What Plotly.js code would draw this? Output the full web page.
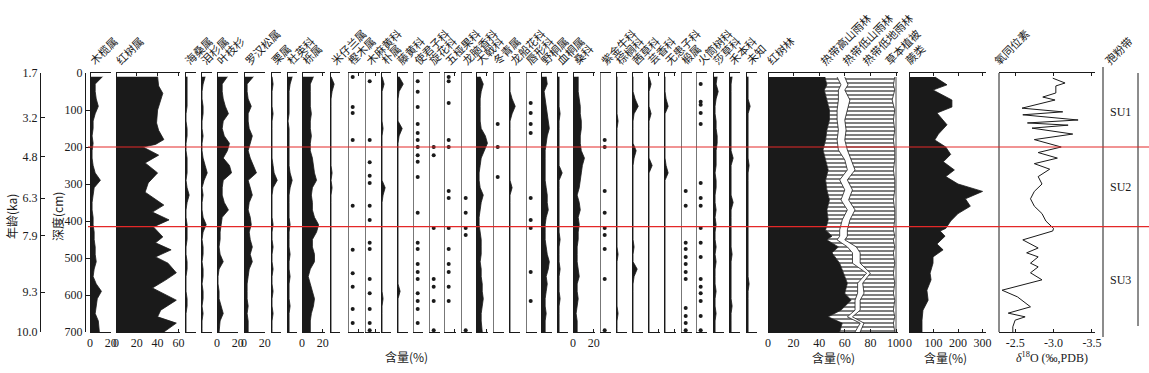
<!DOCTYPE html>
<html>
<head>
<meta charset="utf-8">
<script src="https://cdn.plot.ly/plotly-3.0.1.min.js"></script>
<style>
  body { margin: 0; background: #fff; }
  #chart { width: 1149px; height: 373px; }
</style>
</head>
<body>
<div id="chart"></div>
<script>
// sample depths (cm) shared by most pollen curves
const depths = [10, 30, 50, 70, 90, 110, 130, 150, 170, 190, 210, 230, 250, 270, 290, 310, 330, 350,
                370, 390, 410, 430, 450, 470, 490, 510, 530, 550, 570, 590, 610, 630, 650, 670, 690, 700];

// pollen percentages (%)
const bruguiera   = [12, 5, 5, 6, 8, 5, 3, 3, 2, 3, 2, 2, 3, 5, 10, 4, 3, 2, 2, 3, 3, 4, 4, 5, 5, 6, 4, 3, 6, 11, 7, 6, 5, 8, 9, 9];
const sonneratia  = [2, 2, 2, 2, 2, 1, 1, 2, 2, 1, 1, 2, 2, 2, 1, 2, 4, 2, 1, 1, 2, 2, 2, 1, 1, 2, 2, 1, 1, 1, 2, 2, 1, 1, 1, 1];
const dacrydium   = [4, 2, 1, 1, 2, 2, 1, 1, 2, 1, 1, 2, 4, 6, 3, 1, 2, 1, 1, 2, 5, 2, 1, 2, 2, 1, 2, 2, 1, 2, 2, 1, 2, 1, 1, 1];
const phyllocladus= [10, 5, 5, 6, 8, 11, 6, 5, 7, 12, 10, 6, 12, 14, 6, 5, 5, 7, 11, 5, 4, 3, 3, 2, 3, 6, 2, 1, 1, 2, 2, 4, 6, 3, 2, 2];
const podocarpus  = [9, 3, 3, 4, 7, 4, 4, 5, 8, 6, 4, 6, 9, 12, 4, 6, 8, 5, 4, 6, 7, 5, 6, 8, 6, 8, 5, 4, 3, 3, 3, 4, 3, 4, 4, 4];
const castanea    = [1, 2, 1, 1, 1, 2, 1, 1, 1, 1, 1, 1, 2, 3, 6, 2, 1, 1, 1, 1, 2, 1, 1, 2, 1, 1, 2, 1, 1, 2, 1, 1, 2, 1, 1, 1];
const elaeocarp   = [5, 3, 2, 2, 2, 2, 1, 2, 2, 2, 2, 2, 2, 3, 5, 3, 2, 2, 2, 2, 3, 2, 2, 2, 3, 2, 2, 3, 2, 2, 2, 3, 2, 2, 2, 2];
const quercus     = [11, 8, 8, 8, 8, 9, 8, 8, 9, 8, 8, 10, 11, 12, 14, 10, 9, 10, 10, 12, 16, 14, 10, 10, 12, 12, 8, 6, 8, 10, 12, 11, 9, 8, 8, 8];
const aglaia      = [1, 4, 2, 1, 1, 1, 1, 1, 1, 1, 1, 1, 1, 2, 1, 2, 1, 1, 1, 1, 1, 1, 1, 1, 1, 1, 1, 1, 1, 1, 1, 1, 1, 1, 1, 1];
const celtis      = [1, 3, 1, 1, 1, 1, 1, 2, 1, 1, 1, 1, 1, 1, 1, 4, 2, 1, 1, 1, 1, 1, 1, 1, 1, 1, 1, 1, 1, 1, 2, 1, 1, 1, 1, 1];
const guttiferae  = [2, 6, 2, 1, 1, 1, 1, 5, 2, 1, 1, 1, 1, 1, 1, 1, 1, 1, 1, 1, 1, 1, 1, 1, 1, 1, 1, 1, 1, 3, 1, 1, 1, 1, 1, 1];
const euphorb     = [4, 7, 5, 4, 4, 4, 4, 5, 9, 11, 8, 5, 4, 3, 3, 4, 7, 5, 4, 3, 3, 4, 5, 5, 5, 4, 5, 5, 6, 6, 7, 6, 5, 5, 6, 6];
const ixora       = [1, 1, 1, 3, 6, 3, 1, 1, 1, 1, 1, 1, 1, 1, 1, 3, 1, 1, 1, 1, 1, 1, 1, 1, 1, 1, 1, 1, 1, 1, 1, 1, 1, 1, 1, 1];
const mallotus    = [5, 6, 3, 4, 5, 6, 7, 8, 6, 5, 4, 4, 4, 4, 4, 5, 6, 6, 7, 5, 4, 4, 4, 5, 6, 8, 7, 5, 6, 5, 4, 4, 5, 4, 4, 4];
const macaranga   = [2, 2, 2, 2, 2, 3, 2, 2, 2, 2, 2, 2, 2, 5, 2, 2, 2, 2, 2, 2, 2, 2, 3, 2, 2, 2, 3, 2, 2, 2, 3, 2, 2, 2, 2, 2];
const moraceae    = [5, 5, 5, 6, 7, 7, 8, 8, 7, 7, 8, 11, 9, 8, 7, 6, 4, 6, 7, 5, 6, 5, 5, 4, 4, 4, 5, 6, 4, 4, 5, 4, 3, 4, 4, 4];
const palmae      = [1, 1, 1, 1, 1, 1, 2, 1, 1, 1, 1, 1, 1, 1, 1, 1, 1, 1, 1, 1, 1, 1, 1, 1, 2, 1, 1, 1, 1, 1, 1, 1, 2, 1, 1, 1];
const rubiaceae   = [1, 1, 1, 3, 6, 2, 1, 1, 1, 1, 4, 2, 1, 1, 1, 1, 1, 1, 1, 1, 1, 1, 1, 2, 1, 1, 5, 2, 1, 1, 1, 1, 1, 1, 1, 1];
const rutaceae    = [1, 3, 1, 1, 1, 3, 1, 1, 1, 1, 1, 1, 4, 1, 1, 1, 1, 1, 1, 1, 1, 1, 1, 1, 1, 1, 1, 1, 1, 1, 1, 1, 1, 1, 1, 1];
const sapindaceae = [1, 1, 1, 2, 4, 1, 1, 1, 1, 1, 1, 1, 2, 4, 1, 1, 1, 1, 1, 1, 1, 1, 1, 1, 1, 1, 1, 1, 1, 1, 1, 1, 1, 1, 1, 1];
const cyperaceae  = [4, 3, 5, 3, 2, 2, 3, 3, 4, 4, 3, 3, 3, 2, 3, 3, 2, 2, 3, 2, 3, 2, 2, 3, 2, 3, 2, 2, 2, 3, 2, 2, 3, 2, 2, 2];
const poaceae     = [3, 2, 2, 2, 2, 2, 2, 2, 2, 2, 2, 4, 2, 2, 2, 2, 2, 4, 2, 2, 2, 2, 2, 2, 3, 2, 2, 2, 2, 2, 2, 3, 2, 2, 2, 2];
const unknown     = [2, 2, 2, 2, 4, 2, 2, 2, 2, 2, 2, 2, 3, 2, 2, 2, 2, 2, 2, 2, 2, 2, 2, 2, 2, 2, 2, 2, 3, 2, 2, 2, 2, 2, 2, 2];

// Rhizophora has its own, denser sampling
const rhizoDepth = [10, 35, 55, 75, 100, 135, 155, 180, 193, 200, 222, 243, 270, 297, 322, 357, 376, 397, 416,
                    443, 459, 478, 497, 514, 540, 559, 581, 614, 641, 659, 676, 700];
const rhizophora = [40, 41, 45, 43, 40, 39, 41, 46, 38, 26, 41, 28, 40, 31, 28, 46, 35, 51, 36,
                    45, 38, 53, 38, 50, 58, 48, 35, 58, 43, 40, 58, 46];

// presence-only taxa (depths where a grain was found)
const dysoxylum   = [11, 92, 108, 181, 359, 478, 541, 578, 638, 676];
const casuarina   = [22, 181, 241, 278, 297, 359, 397, 459, 476, 557, 595, 638, 676, 695];
const combretum   = [22, 51, 92, 138, 162, 181, 200, 222, 240, 281, 378, 459, 476, 516, 538, 557, 595, 616, 638, 676];
const convolvul   = [200, 222, 419, 557, 578, 616, 695];
const dillenia    = [11, 22, 81, 181, 200, 319, 338, 419, 476, 516, 538, 578, 616];
const dipterocarp = [338, 378, 419, 438, 695];
const ilex        = [138, 200, 281];
const lamiaceae   = [81, 108, 138, 162, 338, 397, 419, 538, 616];
const myrsine     = [181, 200, 319, 378, 419, 438, 476, 557, 695];
const tilia       = [319, 359, 459, 476, 497, 516, 538, 557, 635, 657, 676, 695];
const leea        = [30, 78, 86, 108, 138, 297, 338, 359, 419, 459, 497, 557, 578, 595, 616, 657, 695];

// vegetation groups (%), summed left to right
const vegDepth    = [11, 32, 46, 73, 100, 127, 154, 181, 208, 235, 262, 289, 316, 343, 370, 397, 424, 441, 451,
                     470, 486, 514, 541, 568, 595, 614, 641, 659, 676, 700];
const mangrove    = [44.5, 46, 44, 46, 48, 48, 46, 45, 43, 45, 47, 45, 46, 48, 46, 47, 45, 50, 46,
                     55, 50, 56, 59, 62, 60, 65, 57, 47, 58, 56];
const montaneRF   = [9.5, 11, 11, 9, 6, 6, 9, 9, 12, 15, 15, 11, 14, 9, 16, 11, 11, 6, 8,
                     7, 16, 10, 18, 8, 10, 3, 11, 15, 14, 12];
const lowMontRF   = [6, 5.5, 5, 9, 8, 6, 6, 6, 7, 5, 6, 6, 6, 6, 6, 6, 6, 6, 6,
                     7, 6, 6, 3, 4, 5, 4, 4, 4, 3, 4];
const lowlandRF   = [39, 35.5, 39, 33, 37, 38, 38, 38, 37, 34, 30, 37, 33, 35, 31, 35, 36, 37, 38,
                     30, 26, 27, 18, 25, 23, 27, 26, 33, 23, 27];

// ferns (% of pollen sum)
const fernDepth = [11, 32, 46, 73, 92, 108, 140, 165, 181, 200, 220, 240, 262, 280, 300, 320, 340, 360, 380,
                   400, 420, 427, 441, 462, 478, 497, 514, 541, 559, 587, 614, 641, 668, 700];
const ferns     = [106, 155, 98, 175, 175, 114, 155, 120, 105, 150, 170, 140, 185, 150, 200, 300, 230, 250, 200,
                   170, 150, 127, 147, 114, 139, 98, 98, 86, 90, 73, 78, 57, 53, 53];

// oxygen isotope
const isoDepth = [14, 24, 27, 35, 54, 65, 73, 95, 105, 113, 127, 135, 141, 149, 165, 180, 200, 215, 230, 245,
                  260, 280, 300, 320, 340, 360, 380, 400, 420, 427, 451, 473, 486, 497, 514, 524, 540, 559,
                  587, 605, 632, 649, 659, 668, 686, 700];
const d18O     = [-2.99, -3.11, -3.15, -3.03, -3.03, -2.86, -3.02, -2.59, -3.12, -2.60, -3.32, -2.66, -3.19, -2.72,
                  -3.25, -2.75, -3.10, -2.80, -3.05, -2.75, -2.95, -2.80, -2.85, -2.75, -2.70, -2.75, -2.85, -2.90,
                  -3.00, -2.99, -2.60, -2.80, -2.65, -2.80, -2.70, -2.80, -2.70, -2.85, -2.33, -2.53, -2.70, -2.41,
                  -2.63, -2.50, -2.47, -2.47];

// age scale on the far left
const ageText  = ['1.7', '3.2', '4.8', '6.3', '7.9', '9.3', '10.0'];
const ageDepth = [0, 120, 227, 338, 440, 592, 700];
const zoneNames = ['SU1', 'SU2', 'SU3'];
const zoneBounds = [200, 415];

// ---------------- layout helpers ----------------
const W = 1149, H = 373;
const TOP = 73, BOT = 332;
const PX = 1.04;   // pixels per percent in the taxon columns
const fx = x => x / W;
const fy = y => 1 - y / H;
const serif = 'Liberation Serif, Times New Roman, serif';
const cjk = 'Noto Sans CJK SC, sans-serif';
const INK = '#1a1a1a';

// column list: label, kind, left px, right px, data, bottom tick labels
const columns = [
  ['木榄属', 'area', 90, 111, bruguiera, true],
  ['红树属', 'rhizo', 116, 180, rhizophora, true],
  ['海桑属', 'area', 185, 196, sonneratia],
  ['泪杉属', 'area', 201, 212, dacrydium],
  ['叶枝杉', 'area', 217, 238, phyllocladus, true],
  ['罗汉松属', 'area', 244, 265, podocarpus, true],
  ['栗属', 'area', 271, 281, castanea],
  ['杜英科', 'area', 287, 297, elaeocarp],
  ['栎属', 'area', 302, 325, quercus, true],
  ['米仔兰属', 'area', 330, 340, aglaia],
  ['樫木属', 'dots', 348, 364, dysoxylum],
  ['木麻黄科', 'dots', 365, 380, casuarina],
  ['朴属', 'area', 381, 391, celtis],
  ['藤黄科', 'area', 397, 408, guttiferae],
  ['使君子科', 'dots', 413, 423, combretum],
  ['旋花科', 'dots', 429, 440, convolvul],
  ['五桠果科', 'dots', 444, 456, dillenia],
  ['龙脑香科', 'dots', 461, 472, dipterocarp],
  ['大戟科', 'area', 476, 488, euphorb],
  ['冬青属', 'dots', 493, 504, ilex],
  ['龙船花科', 'area', 509, 520, ixora],
  ['唇形科', 'dots', 526, 537, lamiaceae],
  ['野桐属', 'area', 541, 552, mallotus],
  ['血桐属', 'area', 557, 568, macaranga],
  ['桑科', 'area', 573, 595, moraceae, true],
  ['紫金牛科', 'dots', 600, 611, myrsine],
  ['棕榈科', 'area', 616, 627, palmae],
  ['茜草科', 'area', 632, 643, rubiaceae],
  ['芸香科', 'area', 648, 660, rutaceae],
  ['无患子科', 'area', 664, 676, sapindaceae],
  ['椴属', 'dots', 681, 692, tilia],
  ['火筒树科', 'dots', 696, 707, leea],
  ['莎草科', 'area', 713, 724, cyperaceae],
  ['禾本科', 'area', 729, 740, poaceae],
  ['未知', 'area', 746, 757, unknown]
];

const traces = [];
const layout = {
  width: W, height: H,
  margin: { l: 0, r: 0, t: 0, b: 0 },
  paper_bgcolor: '#fff',
  plot_bgcolor: 'rgba(0,0,0,0)',
  showlegend: false,
  font: { family: serif, size: 12, color: INK },
  annotations: [],
  shapes: []
};

const yDomain = [fy(BOT), fy(TOP)];
layout.yaxis = {
  domain: yDomain, range: [700, 0], anchor: 'free', position: fx(85),
  showline: true, linecolor: INK, linewidth: 1, ticks: 'inside', ticklen: 4, tickcolor: INK,
  tickvals: [0, 100, 200, 300, 400, 500, 600, 700], showgrid: false, zeroline: false,
  tickfont: { family: serif, size: 12, color: INK }
};
layout.yaxis2 = {
  overlaying: 'y', domain: yDomain, range: [700, 0], anchor: 'free', position: fx(40), side: 'left',
  showline: true, linecolor: INK, linewidth: 1, ticks: 'inside', ticklen: 4, tickcolor: INK,
  tickvals: ageDepth, ticktext: ageText, showgrid: false, zeroline: false,
  tickfont: { family: serif, size: 12, color: INK }
};

function addAxis(n, l, r, range, opts) {
  layout['xaxis' + (n === 1 ? '' : n)] = Object.assign({
    domain: [fx(l), fx(r)], range: range, anchor: 'y',
    showline: true, linecolor: INK, linewidth: 1, mirror: 'ticks',
    ticks: 'inside', ticklen: 3, tickcolor: INK,
    showgrid: false, zeroline: true, zerolinecolor: INK, zerolinewidth: 1,
    tickfont: { family: serif, size: 12, color: INK }
  }, opts);
  return n === 1 ? 'x' : 'x' + n;
}

function note(text, x, y, opts) {
  layout.annotations.push(Object.assign({
    text: text, x: fx(x), y: fy(y), xref: 'paper', yref: 'paper', showarrow: false,
    xanchor: 'center', yanchor: 'middle', font: { family: cjk, size: 12, color: INK }
  }, opts));
}

// slanted header: x is roughly the leftmost point of the rotated text
function diagLabel(text, xLeft, yBase) {
  const size = 11;
  const L = text.length * size, h = size * 1.25;
  const x0 = xLeft + 7;
  const cx = x0 + 0.707 * (L / 2 - h / 2);
  const cy = yBase - 0.707 * (L / 2 + h / 2);
  note(text, cx, cy, { textangle: -45, font: { family: cjk, size: size, color: INK } });
}

let n = 1;
columns.forEach(col => {
  const [label, kind, l, r, vals, showLab] = col;
  const maxV = (r - l) / PX;
  const step = maxV >= 18 ? 20 : 10;
  const tv = [];
  for (let t = 0; t <= maxV + 0.01; t += step) tv.push(t);
  const xa = addAxis(n, l, r, [0, maxV], {
    tickvals: tv, showticklabels: !!showLab,
    zerolinecolor: kind === 'dots' ? '#777' : INK
  });
  if (kind === 'dots') {
    traces.push({
      type: 'scatter', mode: 'markers', x: vals.map(() => 4.5), y: vals,
      xaxis: xa, yaxis: 'y', marker: { size: 4, color: INK }, hoverinfo: 'skip'
    });
  } else {
    traces.push({
      type: 'scatter', mode: 'lines', x: vals, y: kind === 'rhizo' ? rhizoDepth : depths,
      xaxis: xa, yaxis: 'y', fill: 'tozerox', fillcolor: INK,
      line: { color: INK, width: 0.8 }, hoverinfo: 'skip'
    });
  }
  diagLabel(label, l, 67);
  n++;
});

// dummy trace so the age axis is drawn
traces.push({ type: 'scatter', mode: 'markers', x: [null], y: [null], xaxis: 'x', yaxis: 'y2',
  hoverinfo: 'skip', marker: { opacity: 0 } });

// vegetation groups, stacked
const vegAx = addAxis(n++, 768, 898, [0, 130 / 1.28], { tickvals: [0, 20, 40, 60, 80, 100] });
const hatch = { shape: '-', fgcolor: INK, bgcolor: '#fff', size: 4, solidity: 0.28 };
let cum = vegDepth.map(() => 0);
const groups = [mangrove, montaneRF, lowMontRF, lowlandRF, vegDepth.map(() => null)];
const groupFill = ['solid', 'hatch', 'white', 'hatch', 'white'];
groups.forEach((g, i) => {
  cum = cum.map((c, k) => (g[k] === null ? 100 : c + g[k]));
  const tr = {
    type: 'scatter', mode: 'lines', x: cum.slice(), y: vegDepth, xaxis: vegAx, yaxis: 'y',
    line: { color: INK, width: 0.8 }, hoverinfo: 'skip',
    fill: i === 0 ? 'tozerox' : 'tonextx'
  };
  if (groupFill[i] === 'solid') tr.fillcolor = INK;
  else if (groupFill[i] === 'white') tr.fillcolor = '#fff';
  else { tr.fillcolor = '#fff'; tr.fillpattern = hatch; }
  traces.push(tr);
});
[['红树林', 767], ['热带高山雨林', 820], ['热带低山雨林', 842], ['热带低地雨林', 862], ['草本植被', 884], ['蕨类', 905]]
  .forEach(p => diagLabel(p[0], p[1], 67));

// ferns
const fernAx = addAxis(n++, 909, 986, [0, 314], { tickvals: [0, 100, 200, 300] });
traces.push({
  type: 'scatter', mode: 'lines', x: ferns, y: fernDepth, xaxis: fernAx, yaxis: 'y',
  fill: 'tozerox', fillcolor: INK, line: { color: INK, width: 0.8 }, hoverinfo: 'skip'
});

// oxygen isotope
const isoAx = addAxis(n++, 999, 1095, [-2.29, -3.54], {
  tickvals: [-2.5, -3.0, -3.5], ticktext: ['-2.5', '-3.0', '-3.5'], zeroline: false
});
traces.push({
  type: 'scatter', mode: 'lines', x: d18O, y: isoDepth, xaxis: isoAx, yaxis: 'y',
  line: { color: INK, width: 1 }, hoverinfo: 'skip'
});
diagLabel('氧同位素', 993, 67);
diagLabel('孢粉带', 1105, 67);

layout.shapes.push({ type: 'line', xref: 'paper', yref: 'paper', x0: fx(999), x1: fx(999),
  y0: fy(BOT), y1: fy(TOP), line: { color: INK, width: 1 } });

// zone column
layout.shapes.push({ type: 'line', xref: 'paper', yref: 'paper', x0: fx(1103), x1: fx(1103),
  y0: fy(337), y1: fy(67), line: { color: '#666', width: 1.5 } });
layout.shapes.push({ type: 'line', xref: 'paper', yref: 'paper', x0: fx(1138), x1: fx(1138),
  y0: fy(326), y1: fy(73), line: { color: INK, width: 1 } });
const zoneMid = [112, 187, 280];
zoneNames.forEach((z, i) => note(z, 1120, zoneMid[i], { font: { family: serif, size: 12, color: INK } }));

// zone boundaries
zoneBounds.forEach(d => layout.shapes.push({
  type: 'line', xref: 'paper', yref: 'y', x0: fx(88), x1: 1, y0: d, y1: d,
  line: { color: 'rgb(228,40,40)', width: 1.2 }, layer: 'above'
}));

// axis titles
note('年龄(ka)', 11, 217, { textangle: -90 });
note('深度(cm)', 57, 217, { textangle: -90 });
note('含量(%)', 407, 356);
note('含量(%)', 833, 357);
note('含量(%)', 945, 357);
note('<i>δ</i><sup>18</sup>O (‰,PDB)', 1052, 357, { font: { family: serif, size: 12, color: INK } });

Plotly.newPlot('chart', traces, layout, { staticPlot: true });
</script>
</body>
</html>
